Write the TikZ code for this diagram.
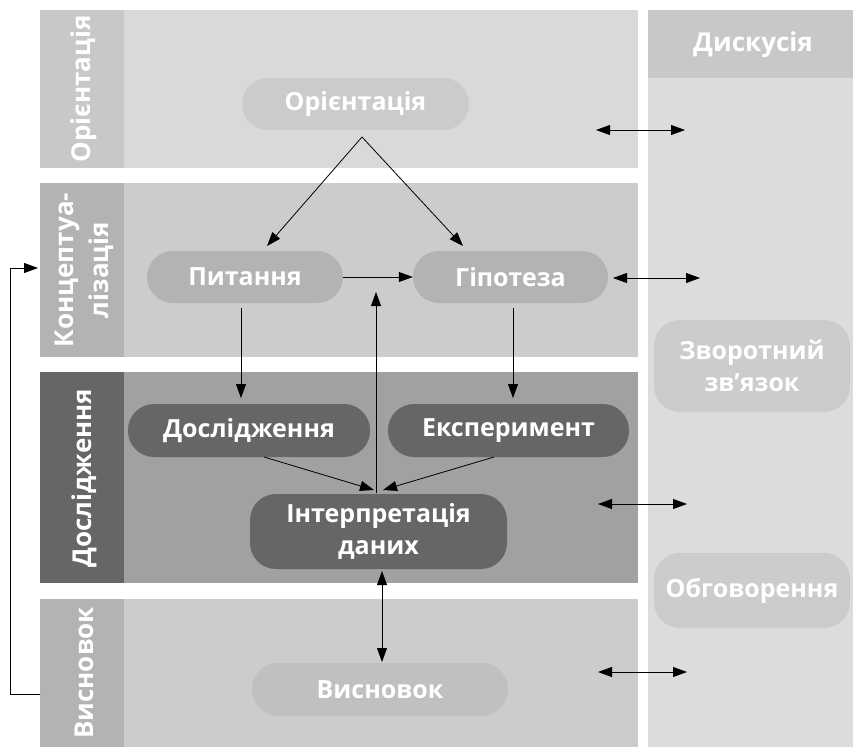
\documentclass[tikz,border=0pt]{standalone}
\usepackage{fontspec}
\setmainfont{Open Sans}
\usetikzlibrary{arrows.meta}
\begin{document}
\begin{tikzpicture}[x=1pt,y=-1pt,
  pill/.style={rounded corners=26pt, minimum height=52pt, text=white, font=\bfseries\fontsize{25}{30}\selectfont, align=center, inner sep=0pt},
  striplabel/.style={rotate=90, text=white, font=\bfseries\fontsize{26}{35}\selectfont, align=center, inner sep=0pt},
  arr/.style={line width=0.8pt, -{Triangle[length=14pt,width=10pt]}},
  darr/.style={line width=0.8pt, {Triangle[length=14pt,width=10pt]}-{Triangle[length=14pt,width=10pt]}},
  ln/.style={line width=0.8pt}]
\useasboundingbox (0,0) rectangle (853,747);
\fill[white] (0,0) rectangle (853,747);
% bands
\fill[fill={rgb,255:red,217;green,217;blue,217}] (40,10) rectangle (638,168);
\fill[fill={rgb,255:red,200;green,200;blue,200}] (40,10) rectangle (124,168);
\fill[fill={rgb,255:red,204;green,204;blue,204}] (40,183) rectangle (638,357);
\fill[fill={rgb,255:red,179;green,179;blue,179}] (40,183) rectangle (124,357);
\fill[fill={rgb,255:red,161;green,161;blue,161}] (40,372) rectangle (638,583);
\fill[fill={rgb,255:red,102;green,102;blue,102}] (40,372) rectangle (124,583);
\fill[fill={rgb,255:red,204;green,204;blue,204}] (40,599) rectangle (638,747);
\fill[fill={rgb,255:red,179;green,179;blue,179}] (40,599) rectangle (124,747);
\fill[fill={rgb,255:red,220;green,220;blue,220}] (648,10) rectangle (853,747);
\fill[fill={rgb,255:red,200;green,200;blue,200}] (648,10) rectangle (853,78);
% strip labels
\node[striplabel] (sOr) at (84,89) {Орієнтація};
\node[striplabel] (sKo) at (84,270) {Концептуа-\\лізація};
\node[striplabel] (sDo) at (84,478) {Дослідження};
\node[striplabel] (sVy) at (84,673) {Висновок};
\node[text=white, font=\bfseries\fontsize{26}{30}\selectfont] (disk) at (753,45) {Дискусія};
% nodes
\node[pill, fill={rgb,255:red,203;green,203;blue,203}, minimum width=227pt] (or) at (355.5,104) {Орієнтація};
\node[pill, fill={rgb,255:red,179;green,179;blue,179}, minimum width=196pt] (pyt) at (245,277) {Питання};
\node[pill, fill={rgb,255:red,179;green,179;blue,179}, minimum width=195pt] (hip) at (510.5,277) {Гіпотеза};
\node[pill, fill={rgb,255:red,102;green,102;blue,102}, minimum width=242pt, minimum height=53pt] (dos) at (249,430.5) {Дослідження};
\node[pill, fill={rgb,255:red,102;green,102;blue,102}, minimum width=241pt, minimum height=53pt] (eks) at (508.5,430.5) {Експеримент};
\node[pill, fill={rgb,255:red,102;green,102;blue,102}, minimum width=257pt, minimum height=75pt, font=\bfseries\fontsize{25}{32}\selectfont] (int) at (378.5,531.5) {Інтерпретація\\даних};
\node[pill, fill={rgb,255:red,192;green,192;blue,192}, minimum width=256pt, minimum height=53pt] (vys) at (380,689.5) {Висновок};
\node[pill, fill={rgb,255:red,204;green,204;blue,204}, minimum width=196pt, minimum height=92pt, font=\bfseries\fontsize{25}{32}\selectfont] (zvo) at (752,366) {Зворотний\\зв’язок};
\node[pill, fill={rgb,255:red,204;green,204;blue,204}, minimum width=196pt, minimum height=75pt] (obh) at (752,590.5) {Обговорення};
% connectors
\coordinate (apex) at (362,137);
\draw[arr] (apex) -- (267,246);
\draw[arr] (apex) -- (463,246);
\draw[arr] (pyt.east) -- (hip.west);
\draw[arr] (241,308) -- (241,398);
\draw[arr] (513,308) -- (513,398);
\coordinate (upTip) at (376,292);
\draw[arr] (376,493) -- (upTip);
\draw[arr] (264,457) -- (374,490);
\draw[arr] (494,457) -- (383,490);
\draw[darr] (382,571) -- (382,662);
% feedback loop
\coordinate (fbIn) at (38,268);
\draw[arr] (40,694) -- (10,694) -- (10,268) -- (fbIn);
% discussion arrows
\draw[darr] (596,130) -- (685,130);
\draw[darr] (613,278) -- (700,278);
\draw[darr] (598,504) -- (687,504);
\draw[darr] (598,672) -- (687,672);
\end{tikzpicture}
\end{document}
